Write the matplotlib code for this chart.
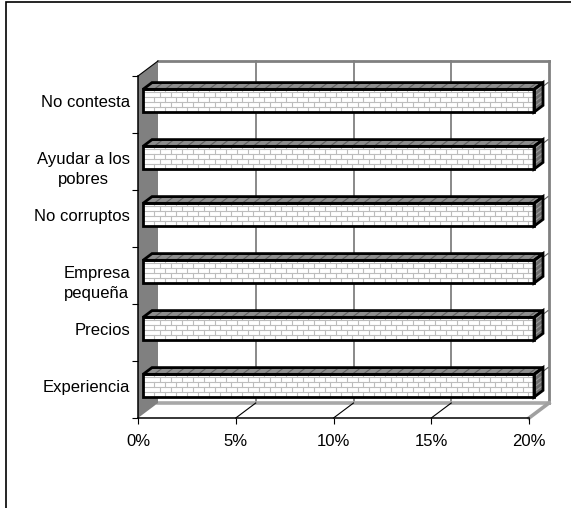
import matplotlib
matplotlib.use("Agg")
import matplotlib.pyplot as plt
from matplotlib.patches import Polygon, Rectangle
from matplotlib.lines import Line2D
from matplotlib.transforms import IdentityTransform
import numpy as np

# Data (bottom to top)
categories = ["Experiencia", "Precios", "Empresa\npequeña", "No corruptos",
              "Ayudar a los\npobres", "No contesta"]
values = [20, 20, 20, 20, 20, 20]
x_ticks = [0, 5, 10, 15, 20]
x_labels = ["0%", "5%", "10%", "15%", "20%"]

plt.rcParams['font.family'] = ['Liberation Sans', 'DejaVu Sans']

W, H = 571, 508
DPI = 100
fig = plt.figure(figsize=(W / DPI, H / DPI), dpi=DPI)
fig.patch.set_facecolor("white")

# front plane of the 3-D box
ax = fig.add_axes([138 / W, (H - 418) / H, (529 - 138) / W, (418 - 76) / H])
ax.set_xlim(0, 20)
ax.set_ylim(0, len(categories))
ax.patch.set_visible(False)

DEPTH = (20.0, 15.0)   # pixel shift of the back plane
GRAY = "#808080"
ID = IdentityTransform()


def proj(x, y, d):
    px, py = ax.transData.transform((x, y))
    return (px + DEPTH[0] * d, py + DEPTH[1] * d)


def poly(pts, **kw):
    p = Polygon(pts, closed=True, transform=ID, clip_on=False, **kw)
    ax.add_patch(p)
    return p


def seg(p0, p1, **kw):
    ln = Line2D([p0[0], p1[0]], [p0[1], p1[1]], transform=ID, clip_on=False, **kw)
    ax.add_line(ln)
    return ln


ymax = len(categories)

# back wall
poly([proj(0, 0, 1), proj(20, 0, 1), proj(20, ymax, 1), proj(0, ymax, 1)],
     facecolor="white", edgecolor="none", zorder=0.5)
for xv in x_ticks[1:-1]:
    seg(proj(xv, 0, 1), proj(xv, ymax, 1), color=GRAY, lw=1.3, zorder=0.6)
seg(proj(0, ymax, 1), proj(20, ymax, 1), color=GRAY, lw=2.0, zorder=0.7)
seg(proj(20, ymax, 1), proj(20, 0, 1), color=GRAY, lw=2.0, zorder=0.7)

# floor
poly([proj(0, 0, 0), proj(20, 0, 0), proj(20, 0, 1), proj(0, 0, 1)],
     facecolor="white", edgecolor="none", zorder=0.8)
seg(proj(0, 0, 1), proj(20, 0, 1), color="#a8a8a8", lw=2.6, zorder=0.9)
seg(proj(20, 0, 0), proj(20, 0, 1), color="#a0a0a0", lw=2.6, zorder=0.9)
for xv in x_ticks[1:-1]:
    seg(proj(xv, 0, 0), proj(xv, 0, 1), color="black", lw=0.8, zorder=0.95)

# side wall
poly([proj(0, 0, 0), proj(0, ymax, 0), proj(0, ymax, 1), proj(0, 0, 1)],
     facecolor=GRAY, edgecolor="none", zorder=1.0)
seg(proj(0, ymax, 0), proj(0, ymax, 1), color="black", lw=0.8, zorder=1.1)

# bars
D0, D1 = 0.25, 0.7
HALF = 0.2
for i, v in enumerate(values):
    y0, y1 = i + 0.5 - HALF, i + 0.5 + HALF
    # front face with brick texture
    a = proj(0, y0, D0)
    b = proj(v, y1, D0)
    front = poly([proj(0, y0, D0), proj(v, y0, D0), proj(v, y1, D0), proj(0, y1, D0)],
                 facecolor="white", edgecolor="none", zorder=2.0)
    row_h, brick_w = 5.0, 11.0
    ys = np.arange(a[1] + row_h, b[1], row_h)
    for k, yy in enumerate(ys):
        ln = seg((a[0], yy), (b[0], yy), color="#bdbdbd", lw=0.8, zorder=2.1)
        ln.set_clip_path(front)
    rows = np.arange(a[1], b[1], row_h)
    for k, yy in enumerate(rows):
        start = a[0] + (brick_w / 2 if k % 2 else 0) + brick_w
        for xx in np.arange(start, b[0], brick_w):
            ln = seg((xx, yy), (xx, min(yy + row_h, b[1])), color="#bdbdbd", lw=0.8, zorder=2.1)
            ln.set_clip_path(front)
    poly([proj(0, y0, D0), proj(v, y0, D0), proj(v, y1, D0), proj(0, y1, D0)],
         facecolor="none", edgecolor="black", lw=2.0, joinstyle="miter", zorder=2.5)
    # top face
    top = [proj(0, y1, D0), proj(v, y1, D0), proj(v, y1, D1), proj(0, y1, D1)]
    tp = poly(top, facecolor="#8e8e8e", edgecolor="none", zorder=2.2)
    t0, t1 = proj(0, y1, D0), proj(0, y1, D1)
    for xx in np.arange(t0[0] + brick_w, proj(v, y1, D0)[0] + 10, brick_w):
        ln = seg((xx, t0[1]), (xx + (t1[0] - t0[0]), t1[1]), color="#606060", lw=0.8, zorder=2.3)
        ln.set_clip_path(tp)
    poly(top, facecolor="none", edgecolor="black", lw=2.0, joinstyle="miter", zorder=2.4)
    # side face
    side = [proj(v, y0, D0), proj(v, y1, D0), proj(v, y1, D1), proj(v, y0, D1)]
    sp = poly(side, facecolor="#6e6e6e", edgecolor="none", zorder=2.2)
    s0 = proj(v, y0, D0)
    for yy in np.arange(s0[1] + row_h, proj(v, y1, D0)[1], row_h):
        ln = seg((s0[0], yy), (s0[0] + (D1 - D0) * DEPTH[0], yy + (D1 - D0) * DEPTH[1]),
                 color="#9a9a9a", lw=0.8, zorder=2.3)
        ln.set_clip_path(sp)
    poly(side, facecolor="none", edgecolor="black", lw=2.0, joinstyle="miter", zorder=2.4)

# axes lines and ticks
for s in ("top", "right"):
    ax.spines[s].set_visible(False)
for s in ("left", "bottom"):
    ax.spines[s].set_color("black")
    ax.spines[s].set_linewidth(1.1)
    ax.spines[s].set_zorder(3)

ax.set_xticks(x_ticks)
ax.set_xticklabels(x_labels, fontsize=12)
ax.set_yticks(range(len(categories) + 1))
ax.set_yticklabels([])
ax.tick_params(axis="both", direction="out", length=4.5, width=0.8, color="black")
ax.tick_params(axis="x", pad=7)

# category labels: first line level with the bar centre
LINE_STEP = 20
for i, c in enumerate(categories):
    px, py = proj(0, i + 0.5, D0)
    n = c.count("\n") + 1
    ax.text(px - 13, py - 2 - (n - 1) * LINE_STEP / 2, c, transform=ID, ha="right",
            va="center", multialignment="center", fontsize=12, linespacing=1.38)

# outer frame
fig.add_artist(Rectangle((6 / W, -0.1), 1.2, (H - 2) / H + 0.1, transform=fig.transFigure,
                         facecolor="none", edgecolor="black", lw=1.2))

fig.savefig("out.png", dpi=DPI, facecolor="white")
